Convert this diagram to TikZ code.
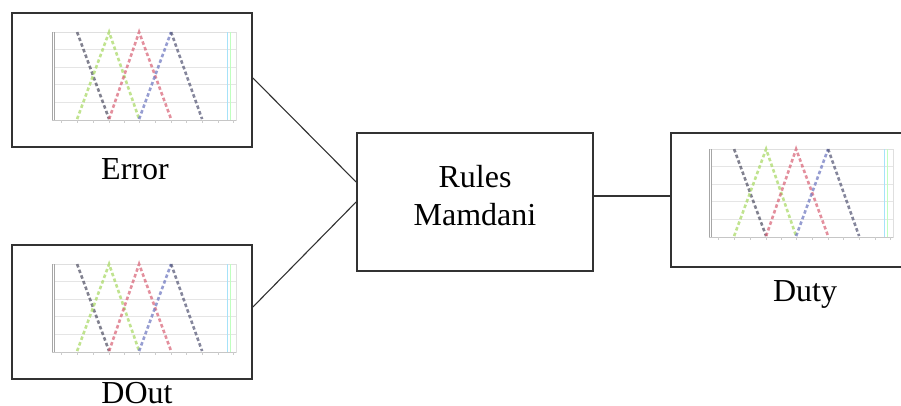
\documentclass[tikz,border=0pt]{standalone}
\usepackage{fontspec}
\setmainfont{Liberation Serif}
\usetikzlibrary{positioning}

\definecolor{boxgray}{RGB}{50,50,50}
\definecolor{mfgreen}{RGB}{165,215,95}
\definecolor{mfred}{RGB}{215,95,115}
\definecolor{mfblue}{RGB}{105,115,190}
\definecolor{mfblack}{RGB}{75,75,95}

\tikzset{
  block/.style={draw=boxgray,line width=1.8pt,minimum width=240pt,minimum height=134pt,inner sep=0pt},
  caption/.style={inner sep=0pt,font=\fontsize{32}{38}\selectfont},
  mf/.style={line width=2.6pt,dash pattern=on 3.5pt off 2.5pt,opacity=0.7},
  mfchart/.pic={
    % frame and grid
    \draw[gray!25] (41,20) rectangle (225,108);
    \foreach \yy in {37.5,55,72.5,90}
      \draw[gray!20] (43,\yy) -- (225,\yy);
    \draw[cyan!35] (216,20) -- (216,108);
    \draw[green!25] (219,20) -- (219,108);
    \draw[gray!70,line width=0.8pt] (41,20) -- (41,108);
    \draw[gray!70,line width=0.8pt] (43.5,20) -- (43.5,108);
    \draw[gray!45] (41,108) -- (225,108);
    \foreach \xx in {50,66,82,98,113,128,144,160,175,191,207,222}
      \draw[gray!40] (\xx,108) -- (\xx,111);
    % membership functions
    \draw[mf,mfblack] (66,20) -- (98,107);
    \draw[mf,mfgreen] (66,107) -- (98,20) -- (128,107);
    \draw[mf,mfred] (98,107) -- (128,20) -- (160,107);
    \draw[mf,mfblue] (128,107) -- (160,20);
    \draw[mf,mfblack!80!mfblue] (160,20) -- (191,107);
  }
}

\begin{document}
\begin{tikzpicture}[x=1pt,y=-1pt]
\useasboundingbox (0,0) rectangle (901,406);

\node[block] (err) at (132,80) {};
\node[block] (dout) at (132,312) {};
\node[block,minimum height=138pt,minimum width=236pt] (rules) at (475,202) {};
\node[block] (duty) at (791,200) {};

\pic at (err.north west) {mfchart};
\pic at (dout.north west) {mfchart};
\pic at ([xshift=-2pt,yshift=3pt]duty.north west) {mfchart};

\node[caption,align=center] (rulestext) at ([yshift=6pt]rules.center) {Rules\\Mamdani};
\node[caption,below=10pt of err,xshift=3pt] (errlabel) {Error};
\node[caption,below=2pt of dout,xshift=5pt] (doutlabel) {DOut};
\node[caption,below=12pt of duty,xshift=14pt] (dutylabel) {Duty};

\draw[boxgray,line width=1.1pt] ([yshift=2pt]err.east) -- ([yshift=20pt]rules.west);
\draw[boxgray,line width=1.1pt] ([yshift=5pt]dout.east) -- (rules.west);
\draw[boxgray,line width=1.1pt] ([yshift=6pt]rules.east) -- ([yshift=6pt]rules.east -| duty.west);
\end{tikzpicture}
\end{document}
